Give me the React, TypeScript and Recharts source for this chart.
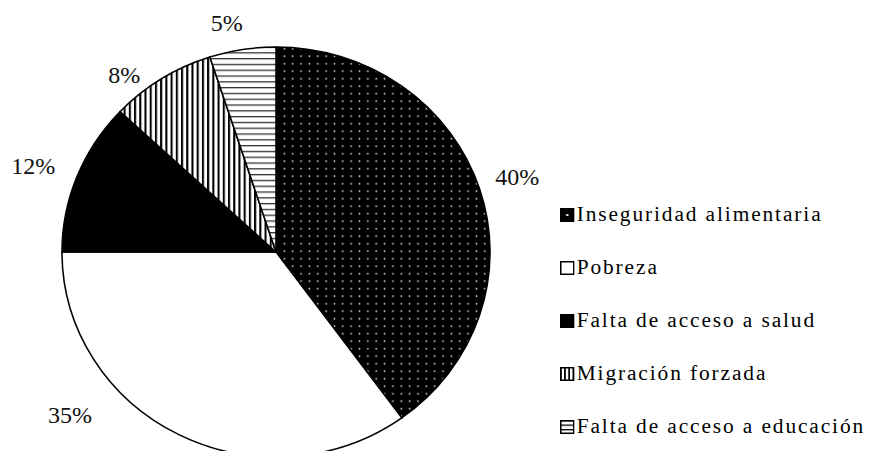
import { PieChart, Pie, Cell, Legend } from "recharts"

const causes = [
  "Inseguridad alimentaria",
  "Pobreza",
  "Falta de acceso a salud",
  "Migración forzada",
  "Falta de acceso a educación",
]
const shares = [40, 35, 12, 8, 5]

const data = causes.map((name, i) => ({ name, value: shares[i] }))

const sliceFills = ["url(#dots)", "#ffffff", "#000000", "url(#vstripes)", "url(#hstripes)"]
const swatchFills = ["url(#dotsL)", "#ffffff", "#000000", "url(#vstripesL)", "url(#hstripesL)"]

// excel "best fit" label spots: rotation (deg, ccw) and gap past the rim
const labelNudge = [
  { turn: 0, gap: 38 },
  { turn: -23.4, gap: 51 },
  { turn: 1.3, gap: 43 },
  { turn: 7, gap: 24 },
  { turn: 2.6, gap: 29 },
]

const FONT = "Liberation Serif"
const RAD = Math.PI / 180

const renderLabel = (props: any) => {
  const { cx, cy, midAngle, outerRadius, percent, index } = props
  const n = labelNudge[index]
  const a = (midAngle + n.turn) * RAD
  const r = outerRadius + n.gap
  const x = cx + r * Math.cos(a)
  const y = cy - r * Math.sin(a)
  return (
    <text
      x={x}
      y={y}
      textAnchor="middle"
      dominantBaseline="central"
      style={{ fontFamily: FONT, fontSize: 23 }}
      fill="#111"
    >
      {`${Math.round(percent * 100)}%`}
    </text>
  )
}

const renderLegend = (props: any) => {
  const { payload = [] } = props
  return (
    <ul style={{ listStyle: "none", margin: 0, padding: 0 }}>
      {payload.map((entry: any, i: number) => (
        <li
          key={i}
          style={{
            height: 53,
            display: "flex",
            alignItems: "center",
            fontFamily: FONT,
            fontSize: 20.5,
            letterSpacing: 1.8,
            color: "#000",
            whiteSpace: "nowrap",
          }}
        >
          <svg width={14} height={14} style={{ marginRight: 2 }}>
            <rect x={0.75} y={0.75} width={12.5} height={12.5} fill={swatchFills[causes.indexOf(entry.value)]} stroke="#000" strokeWidth={1.5} />
          </svg>
          <span>{entry.value}</span>
        </li>
      ))}
    </ul>
  )
}

export default function App() {
  return (
    <div style={{ position: "absolute", left: 0, top: 0, width: 877, height: 451, overflow: "hidden", background: "#fff" }}>
      <svg width={0} height={0} style={{ position: "absolute" }}>
        <defs>
          <pattern id="dots" width={8} height={7.5} patternUnits="userSpaceOnUse">
            <rect width={8} height={7.5} fill="#000" />
            <rect x={3.3} y={3} width={1.4} height={1.4} fill="#fff" />
          </pattern>
          <pattern id="vstripes" width={5} height={5} patternUnits="userSpaceOnUse">
            <rect width={5} height={5} fill="#fff" />
            <rect x={0} y={0} width={2} height={5} fill="#000" />
          </pattern>
          <pattern id="hstripes" width={6} height={5.8} patternUnits="userSpaceOnUse">
            <rect width={6} height={5.8} fill="#fff" />
            <rect x={0} y={0} width={6} height={1.3} fill="#333" />
          </pattern>
          <pattern id="dotsL" width={14} height={14} patternUnits="userSpaceOnUse">
            <rect width={14} height={14} fill="#000" />
            <rect x={6} y={6} width={2} height={2} fill="#fff" />
          </pattern>
          <pattern id="vstripesL" width={4} height={14} patternUnits="userSpaceOnUse">
            <rect width={4} height={14} fill="#fff" />
            <rect x={0} y={0} width={1.6} height={14} fill="#000" />
          </pattern>
          <pattern id="hstripesL" width={14} height={4.5} patternUnits="userSpaceOnUse">
            <rect width={14} height={4.5} fill="#fff" />
            <rect x={0} y={0} width={14} height={1.3} fill="#000" />
          </pattern>
        </defs>
      </svg>
      <div style={{ transform: "scaleX(1.044)", transformOrigin: "276px 252px" }}>
        <PieChart width={877} height={451} margin={{ top: 0, right: 0, bottom: 0, left: 0 }}>
          <Pie
            data={data}
            dataKey="value"
            nameKey="name"
            cx={276}
            cy={252}
            outerRadius={205}
            startAngle={90}
            endAngle={-270}
            stroke="#000"
            strokeWidth={1.5}
            label={renderLabel}
            labelLine={false}
            isAnimationActive={false}
          >
            {data.map((d, i) => (
              <Cell key={d.name} fill={sliceFills[i]} />
            ))}
          </Pie>
          <Legend
            layout="vertical"
            align="right"
            verticalAlign="top"
            itemSorter={null}
            content={renderLegend}
            wrapperStyle={{ left: 548, top: 188, width: 320 }}
          />
        </PieChart>
      </div>
    </div>
  )
}
